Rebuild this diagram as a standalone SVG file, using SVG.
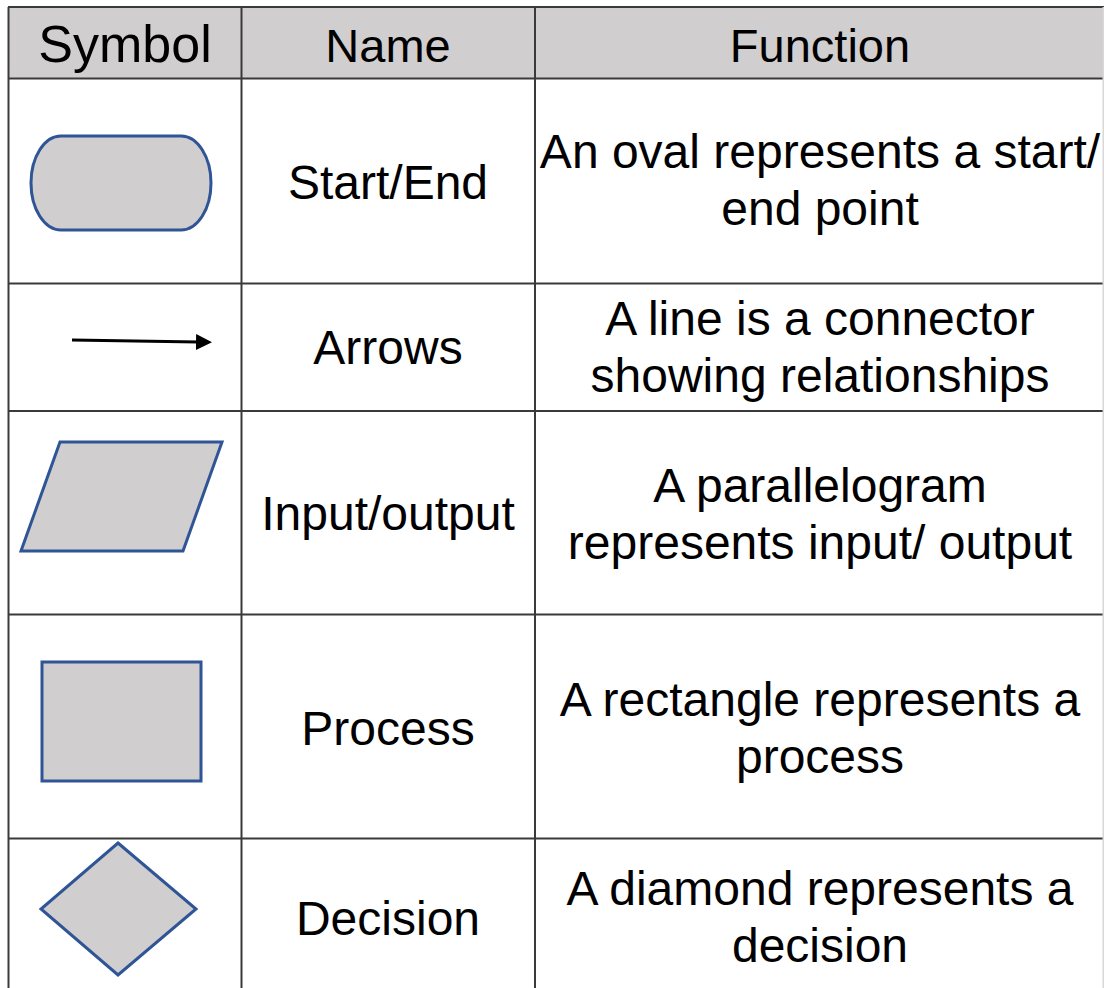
<svg xmlns="http://www.w3.org/2000/svg" width="1104" height="988" viewBox="0 0 1104 988">
  <defs>
    <style>
      .grid { stroke: #3a3a3a; stroke-width: 2; fill: none; }
      .shape { fill: #D0CECE; stroke: #2F5597; stroke-width: 3; }
      .hdr { font-family: "Liberation Sans", Arial, sans-serif; font-size: 47px; fill: #000; text-anchor: middle; }
      .txt { font-family: "Liberation Sans", Arial, sans-serif; font-size: 48px; fill: #000; text-anchor: middle; }
    </style>
    <marker id="arrowhead" markerWidth="16" markerHeight="16" refX="2" refY="8" orient="auto" markerUnits="userSpaceOnUse" viewBox="0 0 16 16">
      <path d="M0,0 L16,8 L0,16 z" fill="#000"/>
    </marker>
  </defs>

  <rect width="1104" height="988" fill="#fff"/>

  <!-- header band -->
  <rect x="8" y="7" width="1096" height="71" fill="#D0CECE"/>

  <!-- table grid -->
  <g id="table-grid" class="grid">
    <line x1="8" y1="7" x2="1104" y2="7"/>
    <line x1="8" y1="78.5" x2="1104" y2="78.5"/>
    <line x1="8" y1="283.5" x2="1104" y2="283.5"/>
    <line x1="8" y1="411" x2="1104" y2="411"/>
    <line x1="8" y1="614.5" x2="1104" y2="614.5"/>
    <line x1="8" y1="838.5" x2="1104" y2="838.5"/>
    <line x1="8.5" y1="7" x2="8.5" y2="988"/>
    <line x1="241.5" y1="7" x2="241.5" y2="988"/>
    <line x1="535" y1="7" x2="535" y2="988"/>
    <line x1="1103.5" y1="7" x2="1103.5" y2="988" stroke="#d8d8d8"/>
  </g>

  <!-- header texts -->
  <g id="header">
    <text class="hdr" x="125" y="62" style="font-size:52px">Symbol</text>
    <text class="hdr" x="388" y="62">Name</text>
    <text class="hdr" x="820" y="62">Function</text>
  </g>

  <!-- row: terminator -->
  <g id="row-start-end">
    <rect class="shape" x="31" y="136" width="180" height="94" rx="30" ry="47"/>
    <text class="txt" x="388" y="199">Start/End</text>
    <text class="txt" x="820" y="168">An oval represents a start/</text>
    <text class="txt" x="820" y="225">end point</text>
  </g>

  <!-- row: flow line -->
  <g id="row-arrows">
    <text class="txt" x="388" y="364">Arrows</text>
    <text class="txt" x="820" y="335">A line is a connector</text>
    <text class="txt" x="820" y="392">showing relationships</text>
  </g>

  <!-- row: data -->
  <g id="row-input-output">
    <polygon class="shape" points="60,442 222,442 183,551 21,551"/>
    <text class="txt" x="388" y="530">Input/output</text>
    <text class="txt" x="820" y="502">A parallelogram</text>
    <text class="txt" x="820" y="559">represents input/ output</text>
  </g>

  <!-- row: process -->
  <g id="row-process">
    <rect class="shape" x="42" y="662" width="159" height="119"/>
    <text class="txt" x="388" y="745">Process</text>
    <text class="txt" x="820" y="716">A rectangle represents a</text>
    <text class="txt" x="820" y="773">process</text>
  </g>

  <!-- row: decision -->
  <g id="row-decision">
    <polygon class="shape" points="118,843 196,909 118,975 41,909"/>
    <text class="txt" x="388" y="935">Decision</text>
    <text class="txt" x="820" y="905">A diamond represents a</text>
    <text class="txt" x="820" y="962">decision</text>
  </g>

  <!-- connector sample -->
  <g id="connectors">
    <line x1="72" y1="340" x2="198" y2="342" stroke="#000" stroke-width="3" marker-end="url(#arrowhead)"/>
  </g>
</svg>
